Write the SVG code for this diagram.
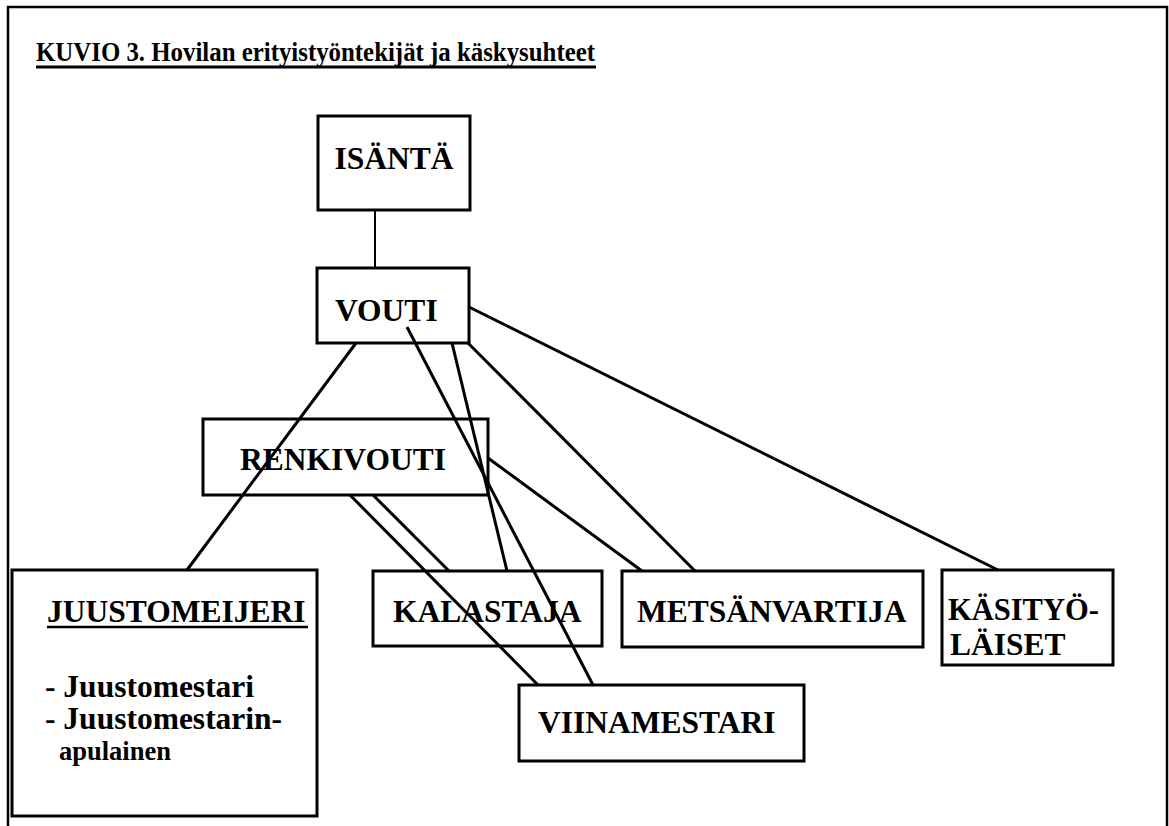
<svg xmlns="http://www.w3.org/2000/svg" width="1169" height="826" viewBox="0 0 1169 826">
<style>
  .box { fill: #fff; stroke: #000; stroke-width: 3; }
  .lbl { font-family: "Liberation Serif", "Times New Roman", serif; font-weight: bold; font-size: 31.5px; fill: #000; }
  .conn line { stroke: #000; stroke-width: 3; stroke-linecap: butt; }
  .ul { stroke: #000; stroke-width: 2.5; }
</style>
<rect x="0" y="0" width="1169" height="826" fill="#fff"/>
<path d="M8,826 V7 H1167 V826" fill="none" stroke="#000" stroke-width="2.5"/>
<g id="title">
  <text x="36" y="61" class="lbl" style="font-size:28px" textLength="559" lengthAdjust="spacingAndGlyphs">KUVIO 3. Hovilan erityistyöntekijät ja käskysuhteet</text>
  <line x1="36" y1="67" x2="596" y2="67" class="ul" style="stroke-width:3"/>
</g>
<g id="isanta">
  <rect x="318" y="116" width="152" height="94" class="box"/>
  <text x="394" y="169" class="lbl" text-anchor="middle">ISÄNTÄ</text>
</g>
<g id="vouti">
  <rect x="317" y="268" width="152" height="75" class="box"/>
  <text x="335" y="321" class="lbl">VOUTI</text>
</g>
<g id="renkivouti">
  <rect x="203" y="419" width="285" height="76" class="box"/>
  <text x="240" y="470" class="lbl">RENKIVOUTI</text>
</g>
<g id="juustomeijeri">
  <rect x="12" y="570" width="305" height="246" class="box"/>
  <text x="47" y="622" class="lbl">JUUSTOMEIJERI</text>
  <line x1="47" y1="627" x2="308" y2="627" class="ul"/>
  <text x="45" y="697" class="lbl">- Juustomestari</text>
  <text x="45" y="729" class="lbl">- Juustomestarin-</text>
  <text x="59" y="760" class="lbl" style="font-size:26.5px">apulainen</text>
</g>
<g id="kalastaja">
  <rect x="373" y="571" width="229" height="75" class="box"/>
  <text x="393" y="622" class="lbl">KALASTAJA</text>
</g>
<g id="metsanvartija">
  <rect x="622" y="571" width="301" height="76" class="box"/>
  <text x="637" y="622" class="lbl">METSÄNVARTIJA</text>
</g>
<g id="kasityolaiset">
  <rect x="942" y="570" width="171" height="95" class="box"/>
  <text x="948" y="620" class="lbl" style="font-size:30.5px">KÄSITYÖ-</text>
  <text x="950" y="655" class="lbl">LÄISET</text>
</g>
<g id="viinamestari">
  <rect x="519" y="685" width="285" height="76" class="box"/>
  <text x="538" y="733" class="lbl">VIINAMESTARI</text>
</g>
<g id="connectors" class="conn">
  <line x1="375" y1="210" x2="375" y2="268" style="stroke-width:2"/>
  <line x1="356" y1="343" x2="187" y2="570"/>
  <line x1="407" y1="327" x2="593" y2="685"/>
  <line x1="452" y1="343" x2="507" y2="571"/>
  <line x1="468" y1="343" x2="695" y2="571"/>
  <line x1="469" y1="307" x2="998" y2="570"/>
  <line x1="488" y1="458" x2="642" y2="571"/>
  <line x1="350" y1="495" x2="538" y2="685"/>
  <line x1="373" y1="495" x2="449" y2="571"/>
</g>
</svg>
